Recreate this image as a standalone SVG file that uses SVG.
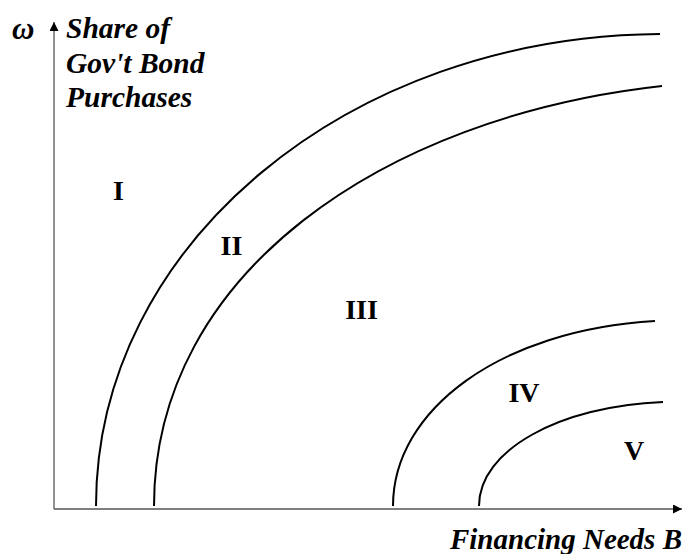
<svg xmlns="http://www.w3.org/2000/svg" width="686" height="554" viewBox="0 0 686 554">
<style>
.lbl{font-family:"Liberation Serif","Times New Roman",serif;font-weight:bold;font-style:italic;font-size:29.5px;fill:#000}
.num{font-family:"Liberation Serif","Times New Roman",serif;font-weight:bold;font-size:28px;fill:#000;text-anchor:middle}
.axis{stroke:#555;stroke-width:1.3;fill:none}
.curve{stroke:#000;stroke-width:2;fill:none}
</style>
<defs>
<marker id="ah" viewBox="0 0 10 10" refX="10" refY="5" markerWidth="9" markerHeight="9" markerUnits="userSpaceOnUse" orient="auto">
<path d="M0,0 L10,5 L0,10 Z" fill="#000"/>
</marker>
</defs>
<rect width="686" height="554" fill="#fff"/>
<g id="axes">
<line class="axis" x1="54" y1="509" x2="54" y2="22" marker-end="url(#ah)"/>
<line class="axis" x1="54" y1="509" x2="682" y2="509" marker-end="url(#ah)"/>
</g>
<g id="connectors">
<path class="curve" d="M96,506 C96,245 348,36 660,34"/>
<path class="curve" d="M154,506 C154,274 382,117 662,86"/>
<path class="curve" d="M393,506 C393,410 500,330 655,321"/>
<path class="curve" d="M479,506 C479,450 560,406 663,402"/>
</g>
<g id="labels">
<text class="lbl" x="12" y="39" style="font-size:31px">ω</text>
<text class="lbl" x="66" y="38">Share of</text>
<text class="lbl" x="66" y="73">Gov't Bond</text>
<text class="lbl" x="66" y="107">Purchases</text>
<text class="lbl" x="682" y="549" text-anchor="end" style="font-size:29px">Financing Needs B</text>
</g>
<g id="region-I"><text class="num" x="118.5" y="200">I</text></g>
<g id="region-II"><text class="num" x="231.5" y="255">II</text></g>
<g id="region-III"><text class="num" x="361.5" y="319">III</text></g>
<g id="region-IV"><text class="num" x="524" y="402">IV</text></g>
<g id="region-V"><text class="num" x="634" y="460">V</text></g>
</svg>
